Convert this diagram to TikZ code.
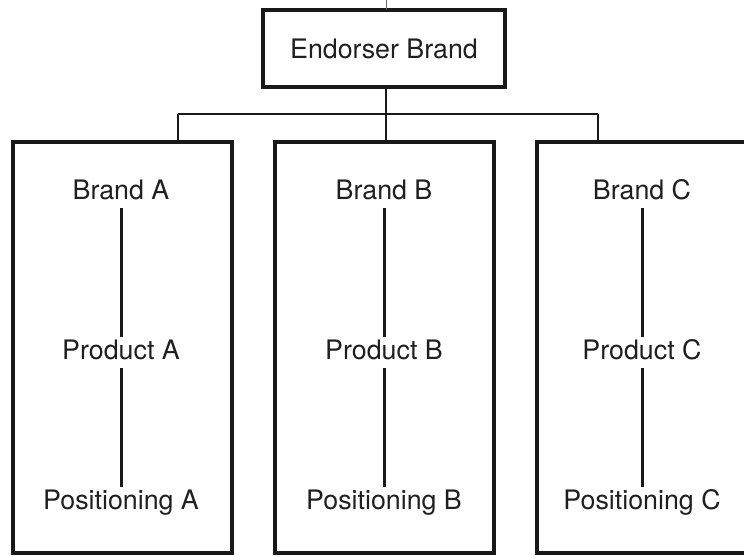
\documentclass[tikz,border=0pt]{standalone}
\usepackage{fontspec}
\setmainfont{TeX Gyre Heros}
\begin{document}
\begin{tikzpicture}[x=1pt,y=-1pt,
  frame/.style={draw=black!90,line width=3.6pt,fill=none},
  label/.style={font=\fontsize{26.8}{30}\selectfont,text=black!88,
    text height=19.4pt,text depth=5.6pt,inner xsep=2pt,inner ysep=3pt,anchor=base},
  link/.style={draw=black!90,line width=2.6pt},
  stem/.style={draw=black!90,line width=3pt}]
\useasboundingbox (0,0) rectangle (744,556);
\fill[white] (0,0) rectangle (744,556);

% head brand
\node[frame,minimum width=242pt,minimum height=77pt,inner sep=0pt,
  font=\fontsize{26.8}{30}\selectfont,text=black!88] (endorser) at (384,48.5) {Endorser Brand};
\coordinate (top) at (386,0);
\draw[draw=black!60,line width=1pt] (top) -- (386,10);

% three brand panels
\node[frame,minimum width=219pt,minimum height=411pt,inner sep=0pt] (boxA) at (122.5,347.5) {};
\node[frame,minimum width=219pt,minimum height=411pt,inner sep=0pt] (boxB) at (384.5,347.5) {};
\node[frame,minimum width=219pt,minimum height=411pt,inner sep=0pt] (boxC) at (646.5,347.5) {};

% bracket from head brand to panels
\coordinate (hub) at (386,114);
\coordinate (jA) at (178,114);
\coordinate (jC) at (598,114);
\draw[link] (386,87) -- (hub);
\draw[link] (jA) -- (jC);
\draw[link] (jA) -- (jA |- boxA.north);
\draw[link] (hub) -- (hub |- boxB.north);
\draw[link] (jC) -- (jC |- boxC.north);

% panel contents
\node[label] (brandA) at (121,199.5) {Brand A};
\node[label] (productA) at (121,359.5) {Product A};
\node[label] (posA) at (121,509.5) {Positioning A};
\node[label] (brandB) at (384,199.5) {Brand B};
\node[label] (productB) at (384,359.5) {Product B};
\node[label] (posB) at (384,509.5) {Positioning B};
\node[label] (brandC) at (642,199.5) {Brand C};
\node[label] (productC) at (642,359.5) {Product C};
\node[label] (posC) at (642,509.5) {Positioning C};

\draw[stem] (brandA) -- (productA);
\draw[stem] (productA) -- (posA);
\draw[stem] (brandB) -- (productB);
\draw[stem] (productB) -- (posB);
\draw[stem] (brandC) -- (productC);
\draw[stem] (productC) -- (posC);
\end{tikzpicture}
\end{document}
